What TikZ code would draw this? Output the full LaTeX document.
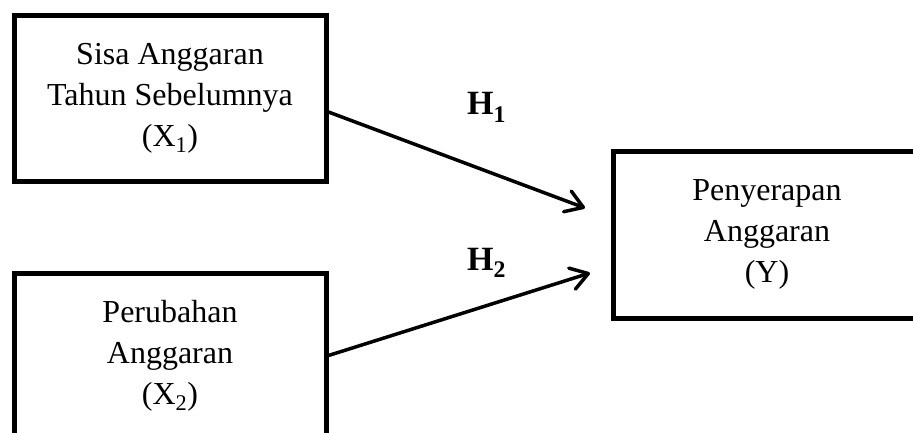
\documentclass[tikz,border=0pt]{standalone}
\usepackage{fontspec}
\setmainfont{Liberation Serif}
\usetikzlibrary{arrows.meta}
\begin{document}
\begin{tikzpicture}[x=1pt,y=1pt,
  varbox/.style={draw=black,line width=5pt,minimum width=312pt,minimum height=165pt,
    align=center,inner sep=0pt,font=\fontsize{32}{41}\selectfont},
  arr/.style={line width=3.5pt,-{Straight Barb[length=17pt,width=22pt,line width=3.5pt,round]}},
  hlab/.style={font=\fontsize{34}{40}\selectfont\bfseries,inner sep=0pt,anchor=base west}]
\useasboundingbox (0,0) rectangle (913,432);
\clip (0,0) rectangle (913,432);
\node[varbox] (b1) at (170,333.5) {Sisa Anggaran\\Tahun Sebelumnya\\(X\textsubscript{1})};
\node[varbox] (b2) at (170,76.5) {Perubahan\\Anggaran\\(X\textsubscript{2})};
\node[varbox,minimum width=308pt,minimum height=167pt] (b3) at (767,197.5) {Penyerapan\\Anggaran\\(Y)};
\coordinate (t1) at (585,224);
\coordinate (t2) at (590,159);
\draw[arr] ([yshift=-13.5pt]b1.east) -- (t1);
\draw[arr] (b2.east) -- (t2);
\node[hlab] (h1) at (467,317) {H\textsubscript{1}};
\node[hlab] (h2) at (467,162) {H\textsubscript{2}};
\end{tikzpicture}
\end{document}
